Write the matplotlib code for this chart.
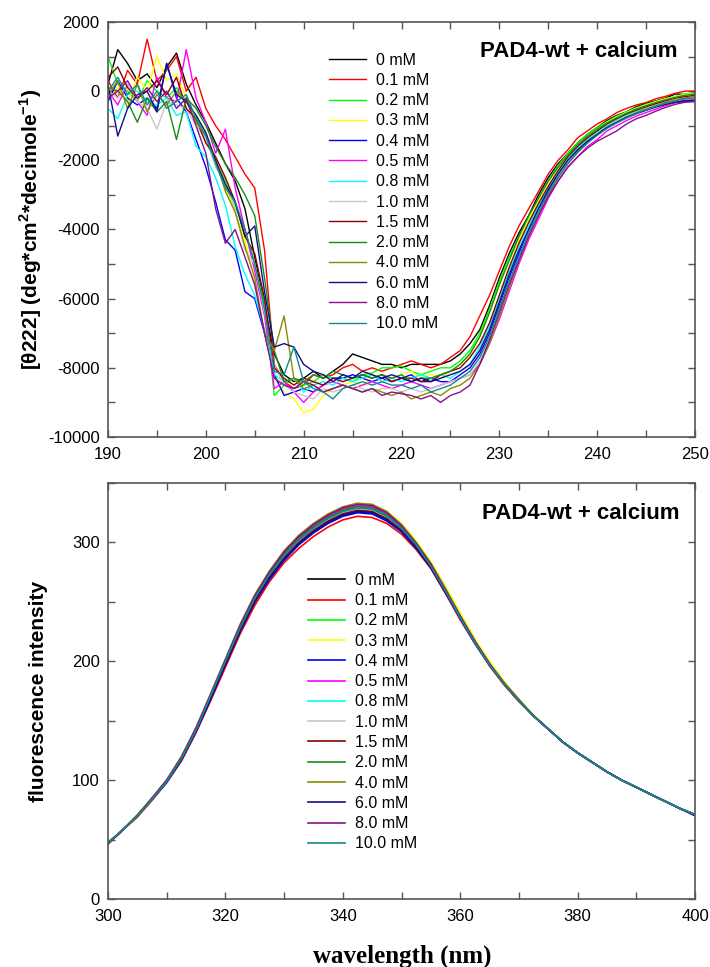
import matplotlib
matplotlib.use("Agg")
import matplotlib.pyplot as plt
from matplotlib.ticker import MultipleLocator

plt.rcParams["font.family"] = ["Liberation Sans", "DejaVu Sans"]
plt.rcParams["mathtext.fontset"] = "custom"
plt.rcParams["mathtext.rm"] = "Liberation Sans"
plt.rcParams["mathtext.bf"] = "Liberation Sans:bold"
plt.rcParams["axes.unicode_minus"] = False

# ---- data -------------------------------------------------------------
labels = ["0 mM", "0.1 mM", "0.2 mM", "0.3 mM", "0.4 mM", "0.5 mM", "0.8 mM",
          "1.0 mM", "1.5 mM", "2.0 mM", "4.0 mM", "6.0 mM", "8.0 mM", "10.0 mM"]
colors = ["#000000", "#ff0000", "#00ff00", "#ffff00", "#0000ff", "#ff00ff", "#00ffff",
          "#c8c8c8", "#8b0000", "#1a8a1a", "#8a8a00", "#10108a", "#8a108a", "#108a8a"]

# CD scan, 190-250 nm in 1 nm steps
cd_wl = list(range(190, 251))
cd_0 = [200, 1200, 800, 300, 500, 100, 700, 1100, 200, -400,
        -900, -1500, -2100, -2600, -3400, -4800, -6200, -7600, -8200, -8400,
        -8300, -8100, -8300, -8100, -7900, -7600, -7700, -7800, -7900, -7900,
        -8000, -7900, -7900, -7900, -7900, -7800, -7600, -7300, -6900, -6200,
        -5400, -4700, -4100, -3600, -3000, -2500, -2100, -1800, -1500, -1250,
        -1050, -850, -700, -600, -450, -350, -280, -200, -80, -100, -50]
cd_01 = [300, -200, 600, 200, 1500, 300, 600, 1000, 0, 400,
         -500, -1000, -1400, -1900, -2400, -2800, -4600, -7900, -8400, -8600,
         -8500, -8200, -8300, -8200, -8000, -7900, -8100, -8000, -8100, -8000,
         -7900, -7800, -7900, -8000, -7900, -7700, -7500, -7100, -6500, -5900,
         -5200, -4500, -3900, -3400, -2900, -2400, -2000, -1700, -1350, -1150,
         -950, -800, -620, -500, -400, -330, -220, -150, -60, 0, 0]
cd_02 = [1000, 200, 0, -300, 300, 0, -200, 100, -300, -700,
         -1200, -2000, -2600, -3300, -4000, -5000, -6200, -8800, -8500, -8300,
         -8500, -8400, -8200, -8300, -8300, -8400, -8200, -8150, -8000, -8000,
         -7950, -8100, -8200, -8100, -8000, -8000, -7800, -7500, -7000, -6300,
         -5500, -4800, -4200, -3700, -3100, -2600, -2150, -1800, -1500, -1250,
         -1050, -880, -720, -600, -480, -380, -300, -220, -150, -80, -60]
cd_03 = [-200, 100, -300, 400, 0, 1000, 300, 500, -200, -900,
         -1300, -1900, -2800, -3500, -4300, -5500, -7000, -8300, -8700, -8900,
         -9300, -9200, -8800, -8600, -8500, -8400, -8500, -8300, -8200, -8300,
         -8200, -8100, -8300, -8200, -8300, -8100, -7900, -7600, -7100, -6400,
         -5600, -4900, -4300, -3700, -3150, -2650, -2200, -1850, -1550, -1300,
         -1100, -900, -750, -620, -500, -400, -300, -220, -160, -100, -80]
cd_04 = [-300, 300, -200, -400, -200, -500, 800, -200, -600, -1400,
         -2200, -3200, -4300, -4600, -5800, -6000, -7000, -8200, -8800, -8700,
         -8600, -8700, -8500, -8300, -8300, -8200, -8300, -8400, -8300, -8400,
         -8300, -8200, -8400, -8300, -8400, -8400, -8200, -8000, -7600, -7000,
         -6200, -5400, -4700, -4000, -3400, -2900, -2400, -2000, -1700, -1450,
         -1250, -1050, -900, -750, -650, -550, -450, -380, -330, -300, -300]
cd_05 = [0, -400, 200, -300, -700, 400, -200, -300, 1200, -200,
         -900, -1800, -1100, -2800, -4000, -5200, -6500, -8600, -8400, -8700,
         -9000, -8700, -8500, -8400, -8500, -8600, -8500, -8400, -8500, -8600,
         -8500, -8400, -8500, -8600, -8500, -8400, -8300, -8200, -7900, -7300,
         -6600, -5800, -5000, -4300, -3700, -3100, -2600, -2200, -1900, -1600,
         -1400, -1150, -1000, -850, -720, -620, -520, -420, -330, -260, -250]
cd_08 = [-500, -800, -100, 0, -300, -400, -200, -700, -600, -1600,
         -1900, -2500, -3300, -4500, -5300, -5900, -6900, -8200, -8400, -8300,
         -8700, -8500, -8400, -8500, -8300, -8400, -8300, -8200, -8400, -8300,
         -8400, -8300, -8200, -8300, -8200, -8300, -8100, -7900, -7400, -6800,
         -6000, -5200, -4500, -3900, -3300, -2800, -2350, -1950, -1650, -1400,
         -1180, -1000, -850, -700, -580, -480, -400, -320, -250, -200, -180]
cd_10 = [0, -200, 200, -300, -500, -1100, -300, -400, -500, -1000,
         -1400, -2200, -2700, -3400, -4600, -5000, -6400, -7900, -8500, -8700,
         -8800, -8900, -8600, -8700, -8600, -8500, -8600, -8700, -8600, -8600,
         -8700, -8600, -8700, -8600, -8500, -8400, -8300, -8200, -7800, -7100,
         -6300, -5500, -4800, -4100, -3500, -2950, -2450, -2050, -1750, -1500,
         -1250, -1050, -880, -740, -620, -500, -420, -330, -260, -200, -150]
cd_15 = [400, 700, 100, -200, 0, 300, -100, 400, -500, -800,
         -1500, -1900, -2500, -3200, -4200, -4700, -6000, -8000, -8300, -8500,
         -8300, -8400, -8500, -8300, -8400, -8300, -8200, -8300, -8200, -8400,
         -8300, -8300, -8400, -8400, -8200, -8100, -8000, -7700, -7300, -6700,
         -5900, -5100, -4400, -3800, -3250, -2750, -2300, -1900, -1600, -1350,
         -1150, -950, -800, -660, -550, -450, -360, -280, -200, -160, -120]
cd_20 = [100, 0, -300, -900, -200, -600, -300, -1400, -200, -500,
         -1000, -1600, -2100, -2500, -3000, -3600, -5400, -7500, -8400, -8300,
         -8400, -8200, -8300, -8100, -8200, -8300, -8200, -8300, -8200, -8300,
         -8200, -8400, -8300, -8300, -8200, -8100, -7900, -7600, -7100, -6400,
         -5600, -4900, -4200, -3600, -3100, -2600, -2200, -1850, -1550, -1300,
         -1100, -920, -770, -640, -520, -420, -330, -250, -180, -120, -90]
cd_40 = [-100, 300, -500, 200, -600, -100, -400, 0, -300, -900,
         -1300, -2000, -2900, -3500, -4500, -5400, -7000, -7500, -6500, -8300,
         -8600, -8500, -8700, -8600, -8500, -8600, -8700, -8600, -8700, -8800,
         -8700, -8900, -8800, -8700, -8800, -8600, -8500, -8300, -7900, -7300,
         -6500, -5700, -4900, -4200, -3600, -3000, -2500, -2100, -1750, -1500,
         -1250, -1050, -900, -750, -620, -520, -420, -330, -260, -200, -150]
cd_60 = [200, -1300, -500, -100, 0, -600, 800, -100, -300, -700,
         -1200, -2000, -2700, -3200, -4200, -3900, -5800, -7400, -7300, -7400,
         -7900, -8100, -8200, -8400, -8200, -8300, -8100, -8200, -8300, -8200,
         -8300, -8400, -8300, -8400, -8300, -8200, -8100, -7900, -7500, -6900,
         -6100, -5300, -4600, -4000, -3400, -2850, -2400, -2000, -1700, -1450,
         -1250, -1050, -900, -760, -650, -550, -460, -380, -320, -280, -270]
cd_80 = [-200, 0, 300, -200, 100, -300, 0, -500, -200, -1000,
         -1800, -3400, -4400, -4000, -4800, -5600, -7000, -8300, -8500, -8600,
         -8400, -8500, -8700, -8600, -8500, -8600, -8700, -8600, -8800, -8700,
         -8750, -8800, -8900, -8800, -9000, -8800, -8700, -8500, -7900, -7200,
         -6400, -5600, -4900, -4200, -3600, -3050, -2600, -2200, -1900, -1650,
         -1450, -1300, -1150, -950, -800, -700, -580, -470, -380, -320, -300]
cd_100 = [0, 400, -100, 200, -400, 0, -500, -300, -100, -800,
          -1300, -2100, -2800, -3200, -4000, -5000, -6300, -8100, -8200, -7400,
          -8400, -8600, -8700, -8900, -8600, -8500, -8400, -8500, -8400, -8500,
          -8500, -8600, -8500, -8700, -8600, -8500, -8300, -8100, -7700, -7100,
          -6300, -5500, -4800, -4100, -3500, -2950, -2500, -2100, -1780, -1500,
          -1280, -1080, -920, -780, -650, -540, -440, -350, -280, -220, -200]
cd_series = [cd_0, cd_01, cd_02, cd_03, cd_04, cd_05, cd_08,
             cd_10, cd_15, cd_20, cd_40, cd_60, cd_80, cd_100]

# fluorescence emission, 300-400 nm in 2.5 nm steps
fl_wl = [300 + 2.5 * i for i in range(41)]
fl_0 = [47, 58, 70, 84, 99, 117, 141, 169, 198, 226, 250, 270, 286, 299, 309, 317, 323, 326, 325, 319,
        310, 296, 279, 258, 237, 216, 197, 181, 167, 154, 143, 132, 123, 115, 107, 100, 94, 88, 82, 76, 71]
fl_01 = [46, 58, 69, 83, 98, 116, 140, 167, 195, 223, 247, 267, 283, 295, 305, 313, 319, 322, 321, 316,
         307, 294, 278, 257, 235, 215, 196, 180, 166, 154, 143, 132, 123, 115, 107, 100, 94, 88, 82, 76, 71]
fl_02 = [47, 58, 70, 84, 99, 119, 143, 171, 200, 228, 254, 274, 290, 303, 313, 321, 327, 330, 329, 323,
         312, 298, 281, 260, 238, 216, 197, 181, 167, 154, 143, 132, 123, 115, 107, 100, 94, 88, 82, 76, 71]
fl_03 = [47, 58, 70, 85, 100, 119, 144, 172, 201, 230, 255, 275, 292, 305, 315, 323, 329, 332, 332, 326,
         316, 301, 284, 263, 241, 219, 200, 183, 168, 155, 143, 132, 123, 115, 107, 100, 94, 88, 82, 76, 71]
fl_04 = [47, 58, 70, 84, 98, 117, 141, 168, 197, 225, 250, 269, 285, 298, 308, 316, 322, 325, 324, 318,
         309, 295, 279, 258, 236, 215, 197, 181, 167, 154, 143, 132, 123, 115, 107, 100, 94, 88, 82, 76, 71]
fl_05 = [47, 58, 70, 84, 100, 119, 143, 172, 201, 229, 254, 275, 291, 304, 314, 322, 328, 331, 330, 324,
         313, 299, 281, 260, 238, 217, 197, 181, 167, 154, 143, 132, 123, 115, 107, 100, 94, 88, 82, 76, 71]
fl_08 = [47, 58, 70, 84, 99, 118, 142, 171, 200, 228, 253, 273, 289, 302, 312, 320, 326, 329, 328, 322,
         312, 298, 280, 259, 237, 216, 197, 181, 167, 154, 143, 132, 123, 115, 107, 100, 94, 88, 82, 76, 71]
fl_10 = [47, 58, 70, 84, 99, 118, 142, 170, 199, 227, 252, 272, 288, 301, 311, 319, 325, 328, 327, 321,
         311, 297, 280, 259, 237, 216, 197, 181, 167, 154, 143, 132, 123, 115, 107, 100, 94, 88, 82, 76, 71]
fl_15 = [47, 58, 70, 84, 99, 118, 142, 169, 198, 226, 251, 271, 287, 300, 310, 318, 324, 327, 326, 320,
         310, 296, 279, 259, 237, 216, 197, 181, 167, 154, 143, 132, 123, 115, 107, 100, 94, 88, 82, 76, 71]
fl_20 = [47, 58, 70, 84, 99, 119, 143, 171, 200, 228, 254, 274, 290, 303, 313, 321, 327, 330, 329, 323,
         312, 298, 281, 260, 238, 216, 197, 181, 167, 154, 143, 132, 123, 115, 107, 100, 94, 88, 82, 76, 71]
fl_40 = [47, 58, 71, 85, 100, 120, 144, 173, 202, 231, 256, 276, 293, 306, 316, 324, 330, 333, 332, 326,
         315, 300, 282, 261, 238, 217, 198, 182, 168, 154, 143, 132, 123, 115, 107, 100, 94, 88, 82, 76, 71]
fl_60 = [47, 58, 70, 84, 99, 117, 141, 169, 198, 226, 250, 270, 286, 299, 309, 317, 323, 326, 325, 319,
         310, 296, 279, 258, 237, 216, 197, 181, 167, 154, 143, 132, 123, 115, 107, 100, 94, 88, 82, 76, 70]
fl_80 = [47, 58, 70, 85, 100, 119, 144, 172, 201, 230, 255, 275, 292, 305, 315, 323, 329, 332, 331, 325,
         314, 299, 282, 260, 238, 217, 198, 181, 167, 154, 143, 132, 123, 115, 107, 100, 94, 88, 82, 76, 71]
fl_100 = [47, 58, 70, 84, 99, 118, 142, 171, 200, 228, 253, 273, 289, 302, 312, 320, 326, 329, 328, 322,
          312, 298, 280, 259, 237, 216, 197, 181, 167, 154, 143, 132, 123, 115, 107, 100, 94, 88, 82, 76, 71]
fl_series = [fl_0, fl_01, fl_02, fl_03, fl_04, fl_05, fl_08,
             fl_10, fl_15, fl_20, fl_40, fl_60, fl_80, fl_100]

# ---- figure -----------------------------------------------------------
fig = plt.figure(figsize=(7.10, 9.67), dpi=100)
ax1 = fig.add_axes([0.1521, 0.5481, 0.8268, 0.4292])
ax2 = fig.add_axes([0.1521, 0.0703, 0.8268, 0.4302])

for ys, c, lab in zip(cd_series, colors, labels):
    ax1.plot(cd_wl, ys, color=c, lw=1.0, label=lab)
for ys, c, lab in zip(fl_series, colors, labels):
    ax2.plot(fl_wl, ys, color=c, lw=1.2, label=lab)

ax1.set_xlim(190, 250)
ax1.set_ylim(-10000, 2000)
ax1.xaxis.set_major_locator(MultipleLocator(10))
ax1.xaxis.set_minor_locator(MultipleLocator(5))
ax1.yaxis.set_major_locator(MultipleLocator(2000))
ax1.yaxis.set_minor_locator(MultipleLocator(1000))

ax2.set_xlim(300, 400)
ax2.set_ylim(0, 350)
ax2.xaxis.set_major_locator(MultipleLocator(20))
ax2.xaxis.set_minor_locator(MultipleLocator(10))
ax2.yaxis.set_major_locator(MultipleLocator(100))
ax2.yaxis.set_minor_locator(MultipleLocator(50))

for ax in (ax1, ax2):
    for s in ax.spines.values():
        s.set_color("#555555")
        s.set_linewidth(1.2)
    ax.tick_params(which="both", direction="in", top=True, right=True,
                   length=5, width=1, color="#555555", labelsize=12, pad=6)
    ax.tick_params(axis="x", which="major", pad=7)

ax1.set_ylabel(r"[θ222] (deg*cm$^{\mathbf{2}}$*decimole$^{\mathbf{-1}}$)",
               fontsize=15, fontweight="bold", va="center")
ax1.yaxis.set_label_coords(-0.131, 0.5)
ax2.set_ylabel("fluorescence intensity", fontsize=15, fontweight="bold", va="center")
ax2.yaxis.set_label_coords(-0.118, 0.5)

ax1.text(0.971, 0.915, "PAD4-wt + calcium", transform=ax1.transAxes,
         ha="right", va="baseline", fontsize=16, fontweight="bold")
ax2.text(0.973, 0.9135, "PAD4-wt + calcium", transform=ax2.transAxes,
         ha="right", va="baseline", fontsize=16, fontweight="bold")

leg_kw = dict(loc="upper left", frameon=False, borderpad=0, borderaxespad=0,
              handlelength=2.3, handletextpad=0.62, labelspacing=0.33, fontsize=11.5)
ax1.legend(bbox_to_anchor=(0.3765, 0.926), **leg_kw)
ax2.legend(bbox_to_anchor=(0.3407, 0.784), **leg_kw)

fig.text(402 / 710, 1 - 956 / 967, "wavelength (nm)", ha="center", va="center",
         family="Liberation Serif", fontweight="bold", fontsize=18)

fig.savefig("out.png", dpi=100)
